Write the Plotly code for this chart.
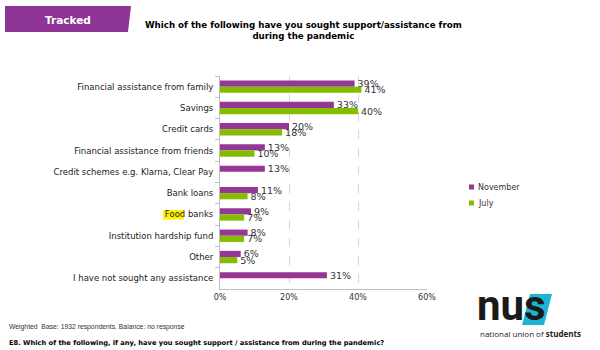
import plotly.graph_objects as go

categories = [
    "Financial assistance from family",
    "Savings",
    "Credit cards",
    "Financial assistance from friends",
    "Credit schemes e.g. Klarna, Clear Pay",
    "Bank loans",
    "Food banks",
    "Institution hardship fund",
    "Other",
    "I have not sought any assistance",
]
november = [39, 33, 20, 13, 13, 11, 9, 8, 6, 31]
july = [41, 40, 18, 10, None, 8, 7, 7, 5, None]
series_names = ["November", "July"]
x_tick_vals = [0, 20, 40, 60]
x_tick_text = ["0%", "20%", "40%", "60%"]

PURPLE = "#953795"
GREEN = "#84BD00"
FONT = "DejaVu Sans"

WIDTH, HEIGHT = 600, 350
L, R, T, B = 220, 173, 76, 61
PW, PH = WIDTH - L - R, HEIGHT - T - B


def px(xp):
    return (xp - L) / PW


def py(yp):
    return (HEIGHT - B - yp) / PH


fig = go.Figure()
for name, vals, col in [(series_names[0], november, PURPLE), (series_names[1], july, GREEN)]:
    fig.add_trace(go.Bar(
        y=categories, x=vals, orientation="h", name=name,
        marker=dict(color=col, line=dict(width=0)),
        text=[f"{v}%" if v is not None else "" for v in vals],
        textposition="outside", constraintext="none", cliponaxis=False,
        textfont=dict(family=FONT, size=9.5, color="#333333"),
        showlegend=False,
    ))

shapes = []
annotations = []

# Tracked banner
shapes.append(dict(type="path", xref="paper", yref="paper",
                   path=f"M {px(5)} {py(6)} L {px(131)} {py(6)} L {px(128)} {py(32)} L {px(5)} {py(32)} Z",
                   fillcolor="#8E3496", line=dict(width=0), layer="below"))
annotations.append(dict(x=px(68), y=py(20), xref="paper", yref="paper", text="<b>Tracked</b>",
                        showarrow=False, font=dict(family=FONT, size=10.5, color="white"),
                        xanchor="center", yanchor="middle"))

# Title
annotations.append(dict(x=px(303), y=py(30), xref="paper", yref="paper",
                        text="<b>Which of the following have you sought support/assistance from<br>during the pandemic</b>",
                        showarrow=False, font=dict(family=FONT, size=8.7, color="black"),
                        xanchor="center", yanchor="middle", align="center"))

# Legend (manual)
for i, (name, col) in enumerate([(series_names[0], PURPLE), (series_names[1], GREEN)]):
    yc = 187 + 16 * i
    shapes.append(dict(type="rect", xref="paper", yref="paper",
                       x0=px(469), x1=px(474), y0=py(yc - 2.5), y1=py(yc + 2.5),
                       fillcolor=col, line=dict(width=0)))
    annotations.append(dict(x=px(476), y=py(yc), xref="paper", yref="paper", text=name,
                            showarrow=False, font=dict(family=FONT, size=8, color="#333333"),
                            xanchor="left", yanchor="middle"))

# Food highlight
shapes.append(dict(type="rect", xref="paper", yref="paper",
                   x0=px(163), x1=px(184), y0=py(210), y1=py(219.5),
                   fillcolor="#FFF200", line=dict(width=0), layer="below"))

# Footer
annotations.append(dict(x=px(7), y=py(327), xref="paper", yref="paper",
                        text="Weighted  Base: 1932 respondents. Balance: no response",
                        showarrow=False, font=dict(family="Liberation Sans", size=6.8, color="#333333"),
                        xanchor="left", yanchor="middle"))
annotations.append(dict(x=px(7), y=py(343), xref="paper", yref="paper",
                        text="<b>E8. Which of the following, if any, have you sought support / assistance from during the pandemic?</b>",
                        showarrow=False, font=dict(family=FONT, size=6.7, color="black"),
                        xanchor="left", yanchor="middle"))

# NUS logo
shapes.append(dict(type="path", xref="paper", yref="paper",
                   path=f"M {px(530)} {py(294)} L {px(552)} {py(294)} L {px(544)} {py(325)} L {px(522)} {py(325)} Z",
                   fillcolor="#1FB3D1", line=dict(width=0), layer="below"))
annotations.append(dict(x=px(476), y=py(305), xref="paper", yref="paper", text="<b>nus</b>",
                        showarrow=False, font=dict(family="Roboto", size=42, color="#1a1a1a"),
                        xanchor="left", yanchor="middle", borderpad=0))
annotations.append(dict(x=px(478), y=py(333), xref="paper", yref="paper",
                        text="national union of <b>students</b>",
                        showarrow=False, font=dict(family="Open Sans", size=8, color="#222222"),
                        xanchor="left", yanchor="middle"))

fig.update_layout(
    width=WIDTH, height=HEIGHT,
    margin=dict(l=L, r=R, t=T, b=B, pad=0),
    paper_bgcolor="white", plot_bgcolor="white",
    barmode="group", bargap=0.42, bargroupgap=0,
    font=dict(family=FONT, size=8, color="#333333"),
    shapes=shapes, annotations=annotations,
    xaxis=dict(range=[0, 60], tickvals=x_tick_vals, ticktext=x_tick_text,
               showgrid=True, gridcolor="#d6d6d6", griddash="dash", gridwidth=1,
               showline=True, linecolor="#bfbfbf", linewidth=1, zeroline=False,
               ticks="", tickfont=dict(family=FONT, size=8, color="#333333"), fixedrange=True),
    yaxis=dict(type="category", autorange="reversed", tickson="boundaries",
               ticks="outside", ticklen=4, tickcolor="#bfbfbf",
               showline=True, linecolor="#bfbfbf", linewidth=1, showgrid=False,
               tickfont=dict(family=FONT, size=8.5, color="#222222"), ticklabelstandoff=4),
)

fig.write_html("out.html")
